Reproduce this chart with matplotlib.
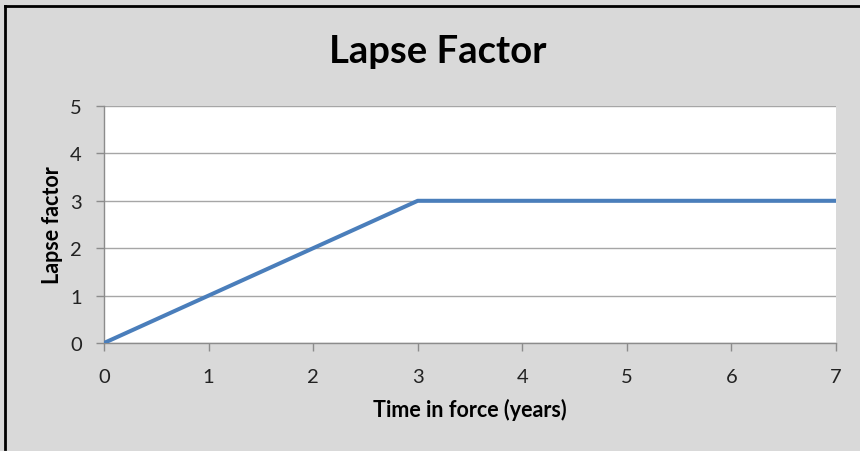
import matplotlib
matplotlib.use("Agg")
import matplotlib.pyplot as plt

# data
years = [0, 3, 7]
lapse = [0, 3, 3]
xticks = [0, 1, 2, 3, 4, 5, 6, 7]
yticks = [0, 1, 2, 3, 4, 5]

plt.rcParams['font.family'] = ['Lato', 'DejaVu Sans']

fig = plt.figure(figsize=(8.6, 4.52), dpi=100)
fig.patch.set_facecolor('#d9d9d9')

# black frame on left and top like the screenshot
fig.add_artist(plt.Line2D([5 / 860, 5 / 860], [0.005, 1 - 7 / 452], transform=fig.transFigure,
                          color='black', lw=2))
fig.add_artist(plt.Line2D([5 / 860, 1.0], [1 - 7 / 452, 1 - 7 / 452], transform=fig.transFigure,
                          color='black', lw=2))

ax = fig.add_axes([104 / 860, 1 - 344 / 452, 732 / 860, 237 / 452])
ax.set_facecolor('white')
ax.plot(years, lapse, color='#4a7ebb', lw=2.9, solid_capstyle='butt', zorder=3)

ax.set_xlim(0, 7)
ax.set_ylim(0, 5)
ax.set_xticks(xticks)
ax.set_yticks(yticks)
ax.grid(axis='y', color='#a6a6a6', lw=1)
ax.set_axisbelow(True)

for s in ['top', 'right']:
    ax.spines[s].set_visible(False)
for s in ['left', 'bottom']:
    ax.spines[s].set_color('#8c8c8c')
    ax.spines[s].set_linewidth(1)

ax.tick_params(axis='both', colors='#8c8c8c', labelcolor='#222222', labelsize=14.5, length=6, width=1)
ax.tick_params(axis='x', pad=12)
ax.tick_params(axis='y', pad=10)

ax.set_xlabel('Time in force (years)', fontsize=15.5, fontweight='bold', va='center')
ax.set_ylabel('Lapse factor', fontsize=15.5, fontweight='bold', va='center')
ax.xaxis.set_label_coords(0.5, -0.28)
ax.yaxis.set_label_coords(-0.071, 0.5)
fig.text(438 / 860, 1 - 52 / 452, 'Lapse Factor', ha='center', va='center',
         fontsize=27.5, fontweight='bold')

fig.savefig('out.png', dpi=100, facecolor=fig.get_facecolor())
